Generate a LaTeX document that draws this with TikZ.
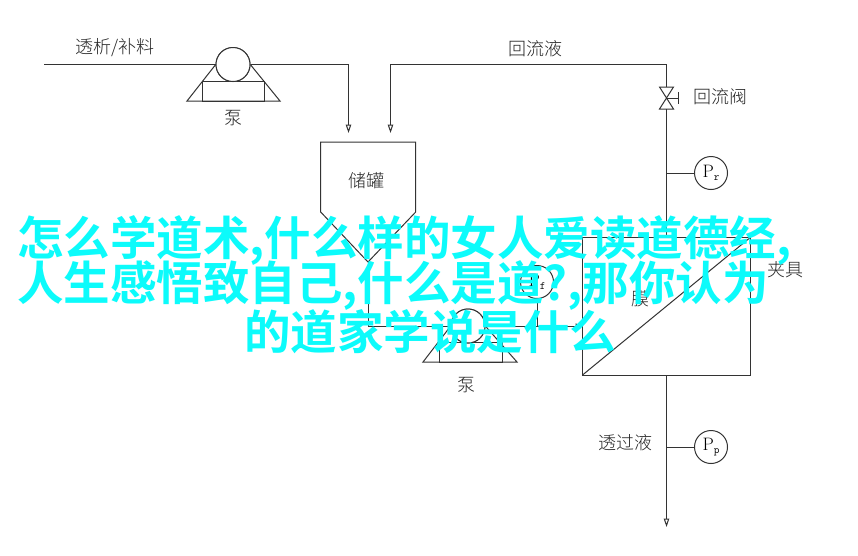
\documentclass[tikz,border=0pt]{standalone}
\usepackage{fontspec}
\usetikzlibrary{arrows.meta}
\newfontfamily\cjklight{Noto Sans CJK SC Light}
\newfontfamily\cjkbold{Noto Sans CJK SC Bold}
\definecolor{ink}{HTML}{333333}
\definecolor{overlay}{HTML}{0CFBFB}
\tikzset{
  pipe/.style={draw=ink,line width=1pt},
  flow/.style={pipe,-{Triangle[open,fill=white,length=8.5pt,width=5.5pt]}},
  equip/.style={draw=ink,line width=1pt},
  pumpcircle/.style={circle,draw=ink,line width=1pt,fill=white,minimum size=34pt,inner sep=0pt},
  gauge/.style={circle,draw=ink,line width=1pt,fill=white,minimum size=33pt,inner sep=0pt,font=\fontsize{18}{18}\selectfont},
  lbl/.style={font=\cjklight\fontsize{18}{18}\selectfont,text=black!85,inner sep=0pt},
  headline/.style={font=\cjkbold\fontsize{46.5}{46.5}\selectfont,text=overlay,inner sep=0pt}
}
\newcommand{\gaugetext}[2]{#1\raisebox{-3pt}{\fontsize{11}{11}\selectfont\ttfamily #2}}
\begin{document}
\begin{tikzpicture}[x=1pt,y=-1pt]
\useasboundingbox (0,0) rectangle (858,555);
\fill[white] (0,0) rectangle (858,555);

% free ends
\coordinate (feed) at (44,64.5);
\coordinate (feedcorner) at (348.5,64.5);
\coordinate (feedend) at (348.5,133);
\coordinate (retend) at (390.5,133);
\coordinate (retcorner) at (390.5,64.5);
\coordinate (retright) at (666.5,64.5);
\coordinate (valvetop) at (666.5,87);
\coordinate (valvemid) at (666.5,98);
\coordinate (valvebot) at (666.5,109);
\coordinate (modtop) at (666.5,237.7);
\coordinate (modbot) at (666.5,375);
\coordinate (permend) at (666.5,527);
\coordinate (prtap) at (666.5,173);
\coordinate (pptap) at (666.5,447);
\coordinate (tankout) at (368,262);
\coordinate (elbow) at (368,326);
\coordinate (pftap) at (537,326);
\coordinate (modin) at (582.5,326);

% pump 1
\node[pumpcircle] (pumpA) at (233,64.5) {};
\draw[pipe] (feed) -- (pumpA.west);
\draw[flow] (pumpA.east) -- (feedcorner) -- (feedend);
\draw[equip] (215.7,64.5) -- (187,101) -- (280,101) -- (250.3,64.5);
\draw[equip] (202.5,81.7) rectangle (264.5,101);
\node[pumpcircle] at (233,64.5) {};
\node[lbl] (lblA) at (233,118) {泵};
\node[lbl] (lblfeed) at (115,48) {透析/补料};

% tank
\draw[equip] (320.7,212) -- (320.7,142) -- (415.7,142) -- (415.7,212) -- (tankout) -- cycle;
\node[lbl] (lbltank) at (366,181) {储罐};

% return line
\draw[flow] (valvetop) -- (retright) -- (retcorner) -- (retend);
\node[lbl] (lblret) at (535,49) {回流液};
\draw[equip] (valvetop) -- (659.5,87) -- (673.5,109) -- (659.5,109) -- (673.5,87) -- cycle;
\draw[equip] (valvemid) -- (678,98);
\draw[equip] (678,92) -- (678,104);
\node[lbl,anchor=west] (lblvalve) at (693,97) {回流阀};
\draw[pipe] (valvebot) -- (modtop);
\node[gauge] (Pr) at (711,173) {\gaugetext{P}{r}};
\draw[pipe] (prtap) -- (Pr);

% pump 2 and line to module
\draw[pipe] (tankout) -- (elbow);
\node[pumpcircle] (pumpB) at (468,326) {};
\draw[pipe] (elbow) -- (pumpB.west);
\draw[flow,-{Triangle[open,fill=white,length=7pt,width=5pt]}] (pumpB.east) -- (modin);
\draw[equip] (450.7,326) -- (423,362) -- (517,362) -- (485.3,326);
\draw[equip] (439.5,342.5) rectangle (502,362);
\node[pumpcircle] at (468,326) {};
\node[lbl] (lblB) at (466,385) {泵};
\node[gauge] (Pf) at (537,282) {\gaugetext{P}{f}};
\draw[pipe] (pftap) -- (Pf);

% module
\draw[equip] (582.5,237.7) rectangle (750,375);
\draw[equip] (582.5,375) -- (750,237.7);
\node[lbl] (lblmem) at (640,299) {膜};
\node[lbl] (lblclamp) at (785,270) {夹具};

% permeate
\draw[flow] (modbot) -- (permend);
\node[lbl] (lblperm) at (625,443) {透过液};
\node[gauge] (Pp) at (711,447) {\gaugetext{P}{p}};
\draw[pipe] (pptap) -- (Pp);

% overlay headline
\node[headline,anchor=west] (h1) at (17,240) {怎么学道术,什么样的女人爱读道德经,};
\node[headline,anchor=west] (h2) at (17,286) {人生感悟致自己,什么是道?,那你认为};
\node[headline] (h3) at (430,332) {的道家学说是什么};
\end{tikzpicture}
\end{document}
